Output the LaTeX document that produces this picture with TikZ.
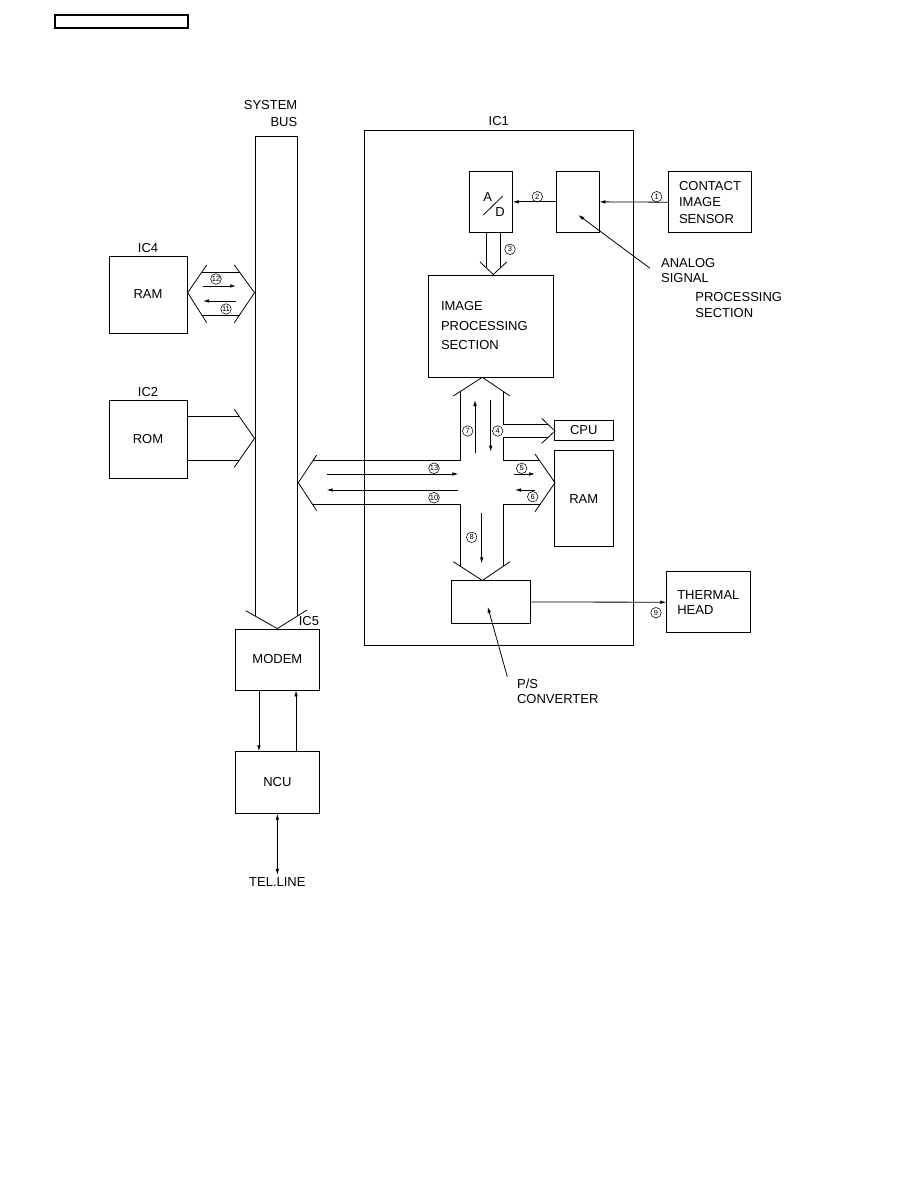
\documentclass[tikz,border=0pt]{standalone}
\usepackage{fontspec}
\setmainfont{Liberation Sans}
\usepackage{tikz}
\usetikzlibrary{
  arrows,
  arrows.meta,
  positioning
}
\tikzset{>={Latex[length=6pt,width=3.6pt]}}
\tikzset{font=\fontsize{13}{15}\selectfont}
\tikzset{blk/.style={draw, line width=0.8pt, inner sep=0pt, align=center},
  num/.style={circle, draw, line width=0.55pt, inner sep=0.3pt, minimum size=10.5pt,
    font=\fontsize{7.5}{7.5}\selectfont},
  lbl/.style={inner sep=0pt, align=left}}

\begin{document}
\begin{tikzpicture}[x=1pt, y=-1pt, line width=0.8pt]
        \useasboundingbox (0,0) rectangle (918,1188);
        \node[blk, line width=1.2pt, minimum width=133pt, minimum height=13pt] (hdr) at (121.5,21.5) {};
        % system bus
        \node[lbl, align=right, anchor=east, font=\fontsize{13}{16.7}\selectfont] (busl) at (297.7,113.3) {SYSTEM\\BUS};
        \draw (255,616) -- (255,136.7) -- (297.7,136.7) -- (297.7,615.5);
        % IC1 and its blocks
        \node[blk, minimum width=269pt, minimum height=514.3pt] (ic1) at (498.8,387.85) {};
        \node[lbl, above=4pt of ic1] {IC1};
        \node[blk, minimum width=43pt, minimum height=61.7pt] (adc) at (490.8,201.85) {};
        \node[lbl] (adca) at (487.7,196.7) {A};
        \node[lbl] (adcd) at (500,211.7) {D};
        \draw (483.3,215) -- (502.7,196);
        \node[blk, minimum width=43pt, minimum height=61.7pt] (asp) at (577.5,201.85) {};
        \node[blk, align=left, minimum width=83.4pt, minimum height=61pt, font=\fontsize{13}{16.4}\selectfont] (cis) at (710,202.2) {CONTACT\\IMAGE\\SENSOR};
        \node[blk, align=left, text width=99.3pt, inner xsep=13pt, minimum height=102pt, font=\fontsize{13}{19.5}\selectfont] (imgp) at (490.65,326) {IMAGE\\PROCESSING\\SECTION};
        \node[blk, minimum width=59pt, minimum height=20.7pt] (cpu) at (583.8,430.35) {CPU};
        \node[blk, minimum width=59pt, minimum height=96pt] (ram1) at (583.8,498.7) {RAM};
        \node[blk, minimum width=79.7pt, minimum height=42.6pt] (ps) at (490.85,602) {};
        \node[blk, align=left, minimum width=83.3pt, minimum height=61pt, font=\fontsize{13}{15.3}\selectfont] (thermal) at (708.35,602.2) {THERMAL\\HEAD};
        % outside blocks
        \node[blk, minimum width=78pt, minimum height=77pt] (ram4) at (148,294.5) {RAM};
        \node[lbl, above=2.3pt of ram4] {IC4};
        \node[blk, minimum width=78pt, minimum height=78pt] (rom) at (148,439) {ROM};
        \node[lbl, above=2.3pt of rom] {IC2};
        \node[blk, minimum width=83.3pt, minimum height=61pt] (modem) at (277.35,659.5) {MODEM};
        \node[lbl, anchor=south east] at ([yshift=2.5pt]modem.north east) {IC5};
        \node[blk, minimum width=83.3pt, minimum height=61.6pt] (ncu) at (277.35,782.5) {NCU};
        \node[inner sep=2pt] (tel) at (277.35,881.7) {TEL.LINE};
        % signal path
        \draw[->] (cis.west) -- (asp.east);
        \draw[->] (asp.west) -- (adc.east);
        \draw[->] (ps.east) -- (thermal.west);
        \draw (486.7,232.7) -- (486.7,266.9);
        \draw (500,232.7) -- (500,266.9);
        \draw (480,262) -- (493.3,274.5) -- (506.7,262);
        % bus chevrons
        \draw (245.7,610.7) -- (modem.north) -- (307,610);
        \draw (206.7,265) -- (187.7,292.7) -- (206.7,322.7);
        \draw (234.3,265) -- (254.5,292.7) -- (234.3,322.7);
        \draw (201.7,272.3) -- (239.5,272.3);
        \draw (201.7,315) -- (239.5,315);
        \draw (187.7,416) -- (238.8,416);
        \draw (187.7,460) -- (239.3,460);
        \draw (234.3,409.3) -- (254.5,438.3) -- (234.3,467.3);
        % cross
        \draw (316.7,455) -- (298.3,482.7) -- (316.7,510.7);
        \draw (312.9,460.7) -- (460.7,460.7) -- (460.7,391.2);
        \draw (453.3,396) -- (482.3,377.3) -- (510,396);
        \draw (503.3,391.5) -- (503.3,424) -- (547.7,424);
        \draw (541.7,418.3) -- (555,431) -- (541.7,443.3);
        \draw (547.8,437.7) -- (503.3,437.7) -- (503.3,460.7) -- (539.7,460.7);
        \draw (535,454) -- (555,482.7) -- (535,511.7);
        \draw (540.1,504.3) -- (503.3,504.3) -- (503.3,566.1);
        \draw (453.3,561.7) -- (482.3,580.5) -- (510,561.7);
        \draw (460.7,566.4) -- (460.7,504.3) -- (312.5,504.3);
        % data flow
        \draw[->] (475,453.3) -- (475,400);
        \draw[->] (490.7,400) -- (490.7,451.7);
        \draw[->] (326.7,474) -- (458.3,474);
        \draw[->] (458.3,490) -- (326.7,490);
        \draw[->] (514,474) -- (535,474);
        \draw[->] (535,490) -- (515,490);
        \draw[->] (481.7,512.7) -- (481.7,563.3);
        \draw[->] (202.7,286) -- (236,286);
        \draw[->] (236,301) -- (203,301);
        \draw[->] ([xshift=-18.4pt]modem.south) -- ([xshift=-18.4pt]ncu.north);
        \draw[->] ([xshift=18.7pt]ncu.north) -- ([xshift=18.7pt]modem.south);
        \draw[<->] (ncu.south) -- (tel.north);
        % step numbers
        \node[num] at (656.7,196.7) {1};
        \node[num] at (537.3,196.7) {2};
        \node[num] at (510,249.3) {3};
        \node[num] at (497.7,431) {4};
        \node[num] at (521.7,468.3) {5};
        \node[num] at (532.7,496.7) {6};
        \node[num] at (467.7,431) {7};
        \node[num] at (471.7,537.3) {8};
        \node[num] at (656,612.7) {9};
        \node[num] at (434,497.7) {10};
        \node[num] at (226,309) {11};
        \node[num] at (216,279) {12};
        \node[num] at (434,468.3) {13};
        % pointers
        \node[lbl, anchor=west, font=\fontsize{13}{15}\selectfont] (alabel) at (660.7,270.8) {ANALOG\\SIGNAL};
        \node[lbl, anchor=west, font=\fontsize{13}{16.6}\selectfont] (alabel2) at (695,305) {PROCESSING\\SECTION};
        \coordinate (aspin) at (578.3,215);
        \draw[->] (650,268.3) -- (aspin);
        \node[lbl, anchor=west, font=\fontsize{13}{14.3}\selectfont] (pslabel) at (516.7,691.2) {P/S\\CONVERTER};
        \coordinate (psin) at (487.7,606.7);
        \draw[->] (507.3,676.7) -- (psin);
      \end{tikzpicture}
\end{document}
